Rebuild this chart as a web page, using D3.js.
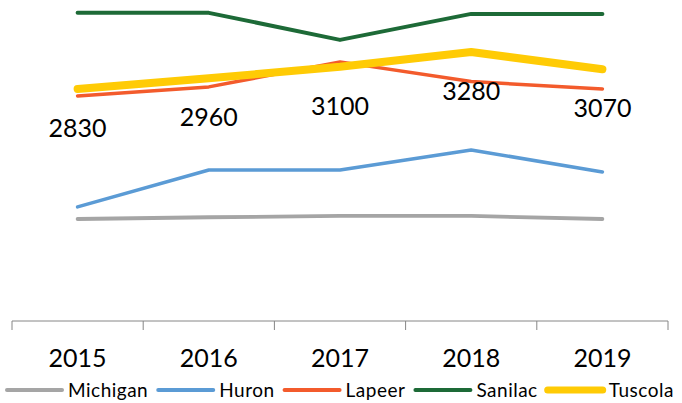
<!DOCTYPE html>
<html>
<head>
<meta charset="utf-8">
<script src="https://cdn.jsdelivr.net/npm/d3@7"></script>
<style>
  body { margin: 0; background: #fff; }
  svg { display: block; font-family: Lato, 'Open Sans', sans-serif; }
</style>
</head>
<body>
<svg id="chart"></svg>
<script>
let years = ['2015', '2016', '2017', '2018', '2019'];
let seriesNames = ['Michigan', 'Huron', 'Lapeer', 'Sanilac', 'Tuscola'];
let michigan = [1244, 1265, 1281, 1281, 1244];
let huron = [1391, 1842, 1842, 2086, 1818];
let lapeer = [2745, 2855, 3160, 2920, 2830];
let sanilac = [3758, 3758, 3428, 3745, 3745];
let tuscola = [2830, 2960, 3100, 3280, 3070];
let colors = ['#a5a5a5', '#5b9bd5', '#f35b2c', '#1d6a37', '#ffcb05'];
let widths = [3.8, 3.5, 3.5, 4, 8];

let width = 682;
let height = 403;

let svg = d3.select('#chart').attr('width', width).attr('height', height);

let x = d3.scaleBand()
  .domain(years)
  .range([12, 668]);

let y = d3.scaleLinear()
  .domain([0, 4000])
  .range([321, -7]);

let allValues = [michigan, huron, lapeer, sanilac, tuscola];
let series = seriesNames.map((name, i) => ({
  name: name,
  color: colors[i],
  width: widths[i],
  values: allValues[i]
}));

//x axis: ticks on category boundaries
let axisG = svg.append('g').attr('transform', 'translate(0,321)');
axisG.append('line')
  .attr('x1', x.range()[0]).attr('x2', x.range()[1])
  .attr('stroke', '#868686').attr('stroke-width', 1);
let bounds = years.map(d => x(d)).concat([x.range()[1]]);
axisG.selectAll('line.tick')
  .data(bounds)
  .enter().append('line')
  .attr('class', 'tick')
  .attr('x1', d => d).attr('x2', d => d)
  .attr('y1', 0).attr('y2', 9)
  .attr('stroke', '#868686').attr('stroke-width', 1);
axisG.selectAll('text')
  .data(years)
  .enter().append('text')
  .attr('x', d => x(d) + x.bandwidth() / 2)
  .attr('y', 46)
  .attr('text-anchor', 'middle')
  .attr('font-size', '25px')
  .attr('fill', '#000')
  .text(d => d);

let line = d3.line()
  .x((d, i) => x(years[i]) + x.bandwidth() / 2)
  .y(d => y(d));

svg.append('g').selectAll('path')
  .data(series)
  .enter().append('path')
  .attr('d', d => line(d.values))
  .attr('fill', 'none')
  .attr('stroke', d => d.color)
  .attr('stroke-width', d => d.width)
  .attr('stroke-linecap', 'round')
  .attr('stroke-linejoin', 'round');

// data labels for Tuscola, below the points
svg.append('g').selectAll('text')
  .data(tuscola)
  .enter().append('text')
  .attr('x', (d, i) => x(years[i]) + x.bandwidth() / 2)
  .attr('y', d => y(d) + 48)
  .attr('text-anchor', 'middle')
  .attr('font-size', '25px')
  .attr('fill', '#000')
  .text(d => d);

// legend
let legend = svg.append('g').attr('transform', 'translate(7,390)');
let lx = 0;
series.forEach(s => {
  let item = legend.append('g').attr('transform', `translate(${lx},0)`);
  item.append('line')
    .attr('x1', 0).attr('x2', 55)
    .attr('stroke', s.color)
    .attr('stroke-width', s.width === 8 ? 7 : 4)
    .attr('stroke-linecap', 'round');
  let t = item.append('text')
    .attr('x', 61)
    .attr('y', 6.5)
    .attr('font-size', '19px')
    .attr('letter-spacing', '0.5px')
    .attr('fill', '#000')
    .text(s.name);
  lx += 61 + t.node().getComputedTextLength() + 10;
});
</script>
</body>
</html>
